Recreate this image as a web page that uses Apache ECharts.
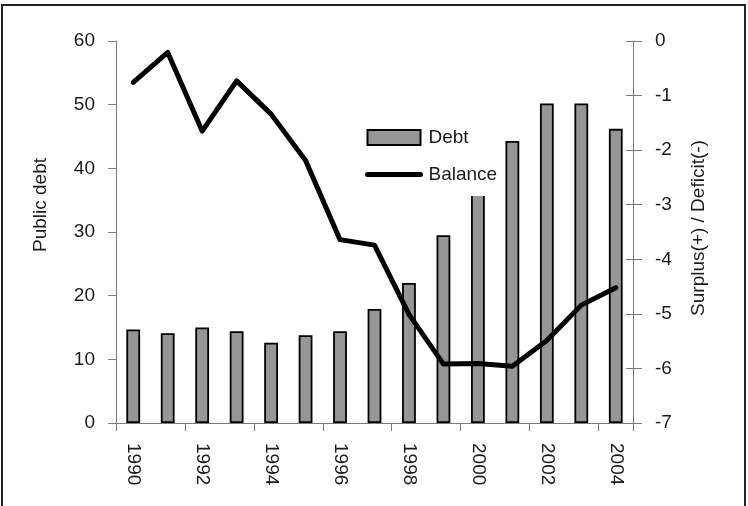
<!DOCTYPE html>
<html>
<head>
<meta charset="utf-8">
<script src="https://cdn.jsdelivr.net/npm/echarts@6/dist/echarts.min.js"></script>
<style>
  html, body { margin: 0; padding: 0; background: #fff; }
  #chart { width: 748px; height: 506px; }
</style>
</head>
<body>
<div id="chart"></div>
<script>
// Public debt (left axis) and budget balance (right axis), 1990-2004
const years = ['1990', '1991', '1992', '1993', '1994', '1995', '1996', '1997',
               '1998', '1999', '2000', '2001', '2002', '2003', '2004'];
const debt = [14.7, 14.1, 15.0, 14.4, 12.6, 13.8, 14.4, 17.9,
              22.0, 29.5, 37.5, 44.3, 50.2, 50.2, 46.2];
const balance = [-0.76, -0.21, -1.65, -0.73, -1.34, -2.19, -3.64, -3.74,
                 -5.01, -5.92, -5.91, -5.96, -5.49, -4.84, -4.52];
const debtTicks = { min: 0, max: 60, interval: 10 };
const balanceTicks = { min: -7, max: 0, interval: 1 };

const FONT = '"Liberation Sans", Arial, sans-serif';
const AXIS_GREY = '#7a7a7a';
const TEXT = '#1a1a1a';

const chart = echarts.init(document.getElementById('chart'), null, { renderer: 'canvas' });

chart.setOption({
  animation: false,
  backgroundColor: '#fff',
  textStyle: { fontFamily: FONT },
  grid: { left: 116, right: 115, top: 41, bottom: 83, containLabel: false },
  legend: {
    orient: 'vertical',
    left: 355,
    top: 115,
    padding: [13, 4, 12, 10],
    itemWidth: 53,
    itemHeight: 15,
    itemGap: 18,
    backgroundColor: '#fff',
    textStyle: { fontFamily: FONT, fontSize: 19, color: TEXT, padding: [0, 0, 0, 3] },
    data: [
      { name: 'Debt', icon: 'rect' },
      {
        name: 'Balance',
        itemStyle: { opacity: 0 },
        lineStyle: { width: 5, color: '#000', cap: 'round' }
      }
    ]
  },
  xAxis: {
    type: 'category',
    data: years,
    boundaryGap: true,
    axisLine: { show: true, lineStyle: { color: AXIS_GREY, width: 1 } },
    axisTick: { show: true, length: 8, alignWithLabel: false, lineStyle: { color: AXIS_GREY } },
    axisLabel: {
      interval: 1,
      rotate: -90,
      margin: 20,
      fontFamily: FONT,
      fontSize: 19,
      color: TEXT
    },
    splitLine: { show: false }
  },
  yAxis: [
    {
      type: 'value',
      position: 'left',
      min: debtTicks.min, max: debtTicks.max, interval: debtTicks.interval,
      name: 'Public debt',
      nameLocation: 'middle',
      nameGap: 66,
      nameRotate: 90,
      nameTextStyle: { fontFamily: FONT, fontSize: 19, color: TEXT, padding: [0, 0, 0, 54] },
      axisLine: { show: true, lineStyle: { color: AXIS_GREY, width: 1 } },
      axisTick: { show: true, length: 8, lineStyle: { color: AXIS_GREY } },
      axisLabel: { margin: 21, fontFamily: FONT, fontSize: 19, color: TEXT },
      splitLine: { show: false }
    },
    {
      type: 'value',
      position: 'right',
      min: balanceTicks.min, max: balanceTicks.max, interval: balanceTicks.interval,
      name: 'Surplus(+) / Deficit(-)',
      nameLocation: 'middle',
      nameGap: 56,
      nameRotate: 90,
      nameTextStyle: { fontFamily: FONT, fontSize: 19, color: TEXT, padding: [0, 0, 0, 8] },
      axisLine: { show: true, lineStyle: { color: AXIS_GREY, width: 1 } },
      axisTick: { show: true, length: 9, lineStyle: { color: AXIS_GREY } },
      axisLabel: { margin: 22, fontFamily: FONT, fontSize: 19, color: TEXT },
      splitLine: { show: false }
    },
    {
      // inner half of the right-hand tick marks
      type: 'value',
      position: 'right',
      min: balanceTicks.min, max: balanceTicks.max, interval: balanceTicks.interval,
      axisLine: { show: false },
      axisTick: { show: true, inside: true, length: 7, lineStyle: { color: AXIS_GREY } },
      axisLabel: { show: false },
      splitLine: { show: false }
    }
  ],
  series: [
    {
      name: 'Debt',
      type: 'bar',
      yAxisIndex: 0,
      data: debt,
      barWidth: '40%',
      itemStyle: { color: '#969696', borderColor: '#000', borderWidth: 1.8 },
      z: 2
    },
    {
      name: 'Balance',
      type: 'line',
      yAxisIndex: 1,
      data: balance,
      showSymbol: false,
      symbol: 'none',
      lineStyle: { color: '#000', width: 5, cap: 'round', join: 'round' },
      itemStyle: { color: '#000' },
      z: 3
    }
  ],
  graphic: [
    {
      type: 'rect',
      shape: { x: 2, y: 5, width: 743, height: 520 },
      style: { fill: 'none', stroke: '#222', lineWidth: 2 },
      silent: true,
      z: 100
    }
  ]
});
</script>
</body>
</html>
